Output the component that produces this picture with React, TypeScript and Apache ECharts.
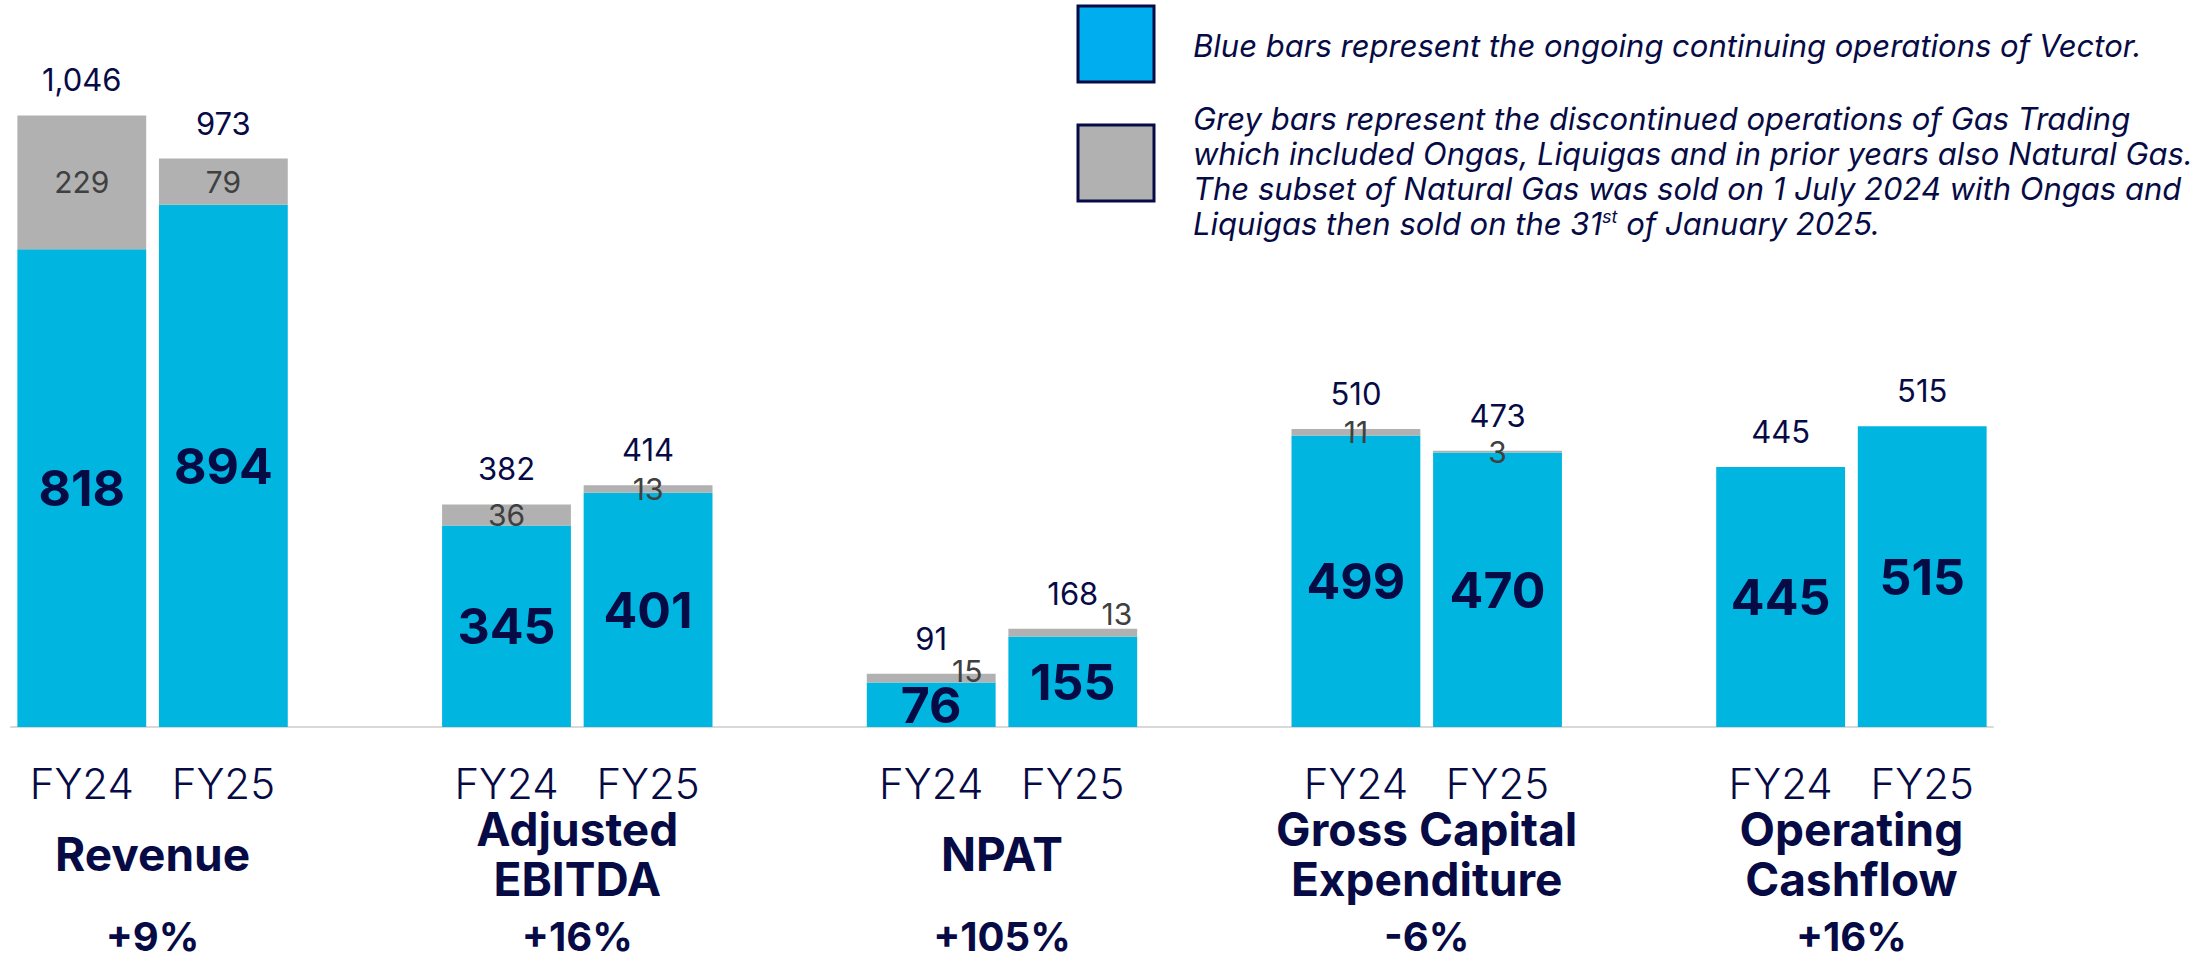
import React, { useEffect, useRef } from "react";
import * as echarts from "echarts";

// ---- data ----
const groupTitles = ["Revenue", "Adjusted\nEBITDA", "NPAT", "Gross Capital\nExpenditure", "Operating\nCashflow"];
const growthLabels = ["+9%", "+16%", "+105%", "-6%", "+16%"];
const yearLabels = ["FY24", "FY25"];
const continuingFY24 = [818, 345, 76, 499, 445];
const continuingFY25 = [894, 401, 155, 470, 515];
const discontinuedFY24 = [229, 36, 15, 11, 0];
const discontinuedFY25 = [79, 13, 13, 3, 0];
const totalFY24 = [1046, 382, 91, 510, 445];
const totalFY25 = [973, 414, 168, 473, 515];
const legendBlueText = ["Blue bars represent the ongoing continuing operations of Vector."];
const legendGreyText = [
  "Grey bars represent the discontinued operations of Gas Trading",
  "which included Ongas, Liquigas and in prior years also Natural Gas.",
  "The subset of Natural Gas was sold on 1 July 2024 with Ongas and",
  "Liquigas then sold on the 31{sup|st} of January 2025.",
];

// ---- styles ----
const NAVY = "#070B45";
const BLUE = "#00B5E0";
const GREY = "#B1B1B1";
const FONT = "Inter, 'Open Sans', sans-serif";
// manual label nudges for the NPAT grey values (group 2)
const greyLabelOffsets: Record<string, number[]> = { "2-0": [36, -7], "2-1": [44, -19] };

// ---- build slots (FY24, FY25, gap) ----
const categories: string[] = [];
const contData: any[] = [];
const discData: any[] = [];
const totalData: any[] = [];
groupTitles.forEach((_, g) => {
  const cont = [continuingFY24[g], continuingFY25[g]];
  const disc = [discontinuedFY24[g], discontinuedFY25[g]];
  const tot = [totalFY24[g], totalFY25[g]];
  for (let y = 0; y < 2; y++) {
    categories.push(yearLabels[y] + "|" + g);
    contData.push(cont[y]);
    const off = greyLabelOffsets[g + "-" + y];
    discData.push(off ? { value: disc[y], label: { offset: off } } : disc[y]);
    totalData.push({ value: 0, total: tot[y] });
  }
  if (g < groupTitles.length - 1) {
    categories.push("|gap" + g);
    contData.push("-");
    discData.push("-");
    totalData.push("-");
  }
});

const fmtThousands = (v: number) => v.toLocaleString("en-US");

const option: any = {
  animation: false,
  backgroundColor: "#ffffff",
  textStyle: { fontFamily: FONT },
  grid: { left: 11, right: 212, top: 26, bottom: 230, containLabel: false },
  xAxis: {
    type: "category",
    data: categories,
    axisLine: { show: true, lineStyle: { color: "#D9D9D9", width: 2 } },
    axisTick: { show: false },
    axisLabel: {
      interval: 0,
      margin: 38,
      fontSize: 42,
      lineHeight: 36,
      color: NAVY,
      fontFamily: FONT,
      fontWeight: 300,
      formatter: (v: string) => v.split("|")[0],
    },
  },
  yAxis: { type: "value", min: 0, max: 1200, show: false, splitLine: { show: false } },
  series: [
    {
      name: "Continuing",
      type: "bar",
      stack: "s",
      barWidth: "91%",
      data: contData,
      itemStyle: { color: BLUE },
      label: {
        show: true,
        position: "inside",
        fontSize: 50,
        fontWeight: "bold",
        color: NAVY,
        fontFamily: FONT,
      },
    },
    {
      name: "Discontinued",
      type: "bar",
      stack: "s",
      data: discData,
      itemStyle: { color: GREY },
      label: {
        show: true,
        position: "inside",
        fontSize: 30,
        color: "#404040",
        fontFamily: FONT,
        formatter: (p: any) => (p.value ? String(p.value) : ""),
      },
    },
    {
      name: "Total",
      type: "bar",
      stack: "s",
      data: totalData,
      itemStyle: { color: "transparent" },
      label: {
        show: true,
        position: "top",
        distance: 20,
        fontSize: 31,
        color: NAVY,
        fontFamily: FONT,
        formatter: (p: any) => fmtThousands(p.data.total),
      },
    },
  ],
};

export default function App() {
  const ref = useRef<HTMLDivElement>(null);
  useEffect(() => {
    const chart = echarts.init(ref.current!, null, { renderer: "svg" });
    chart.setOption(option);

    const graphics: any[] = [];
    // legend
    graphics.push({
      type: "rect",
      shape: { x: 1078, y: 6, width: 76, height: 76 },
      style: { fill: "#00AEEF", stroke: NAVY, lineWidth: 3 },
    });
    graphics.push({
      type: "rect",
      shape: { x: 1078, y: 125, width: 76, height: 76 },
      style: { fill: GREY, stroke: NAVY, lineWidth: 3 },
    });
    const legendStyle = {
      fill: NAVY,
      fontSize: 31,
      fontStyle: "italic",
      fontFamily: FONT,
      align: "left",
      verticalAlign: "middle",
    };
    legendBlueText.forEach((t, i) => {
      graphics.push({ type: "text", x: 1193, y: 45 + i * 35, style: { ...legendStyle, text: t } });
    });
    legendGreyText.forEach((t, i) => {
      graphics.push({
        type: "text",
        x: 1193,
        y: 118 + i * 35,
        style: {
          ...legendStyle,
          text: t,
          rich: {
            sup: { fontSize: 18, fontStyle: "italic", fontFamily: FONT, fill: NAVY, verticalAlign: "top", lineHeight: 24 },
          },
        },
      });
    });

    // group titles and growth labels, centred between the two bars of each group
    groupTitles.forEach((t, g) => {
      const a = chart.convertToPixel({ xAxisIndex: 0 }, g * 3) as number;
      const b = chart.convertToPixel({ xAxisIndex: 0 }, g * 3 + 1) as number;
      const cx = (a + b) / 2;
      graphics.push({
        type: "text",
        x: cx,
        y: 854,
        style: {
          text: t,
          fill: NAVY,
          fontSize: 46,
          fontWeight: "bold",
          fontFamily: FONT,
          lineHeight: 50,
          align: "center",
          verticalAlign: "middle",
        },
      });
      graphics.push({
        type: "text",
        x: cx,
        y: 936,
        style: {
          text: growthLabels[g],
          fill: NAVY,
          fontSize: 40,
          lineHeight: 34,
          fontWeight: "bold",
          fontFamily: FONT,
          align: "center",
          verticalAlign: "middle",
        },
      });
    });
    chart.setOption({ graphic: graphics });
    return () => chart.dispose();
  }, []);
  return <div ref={ref} style={{ position: "absolute", left: 0, top: 0, width: 2205, height: 957 }} />;
}
